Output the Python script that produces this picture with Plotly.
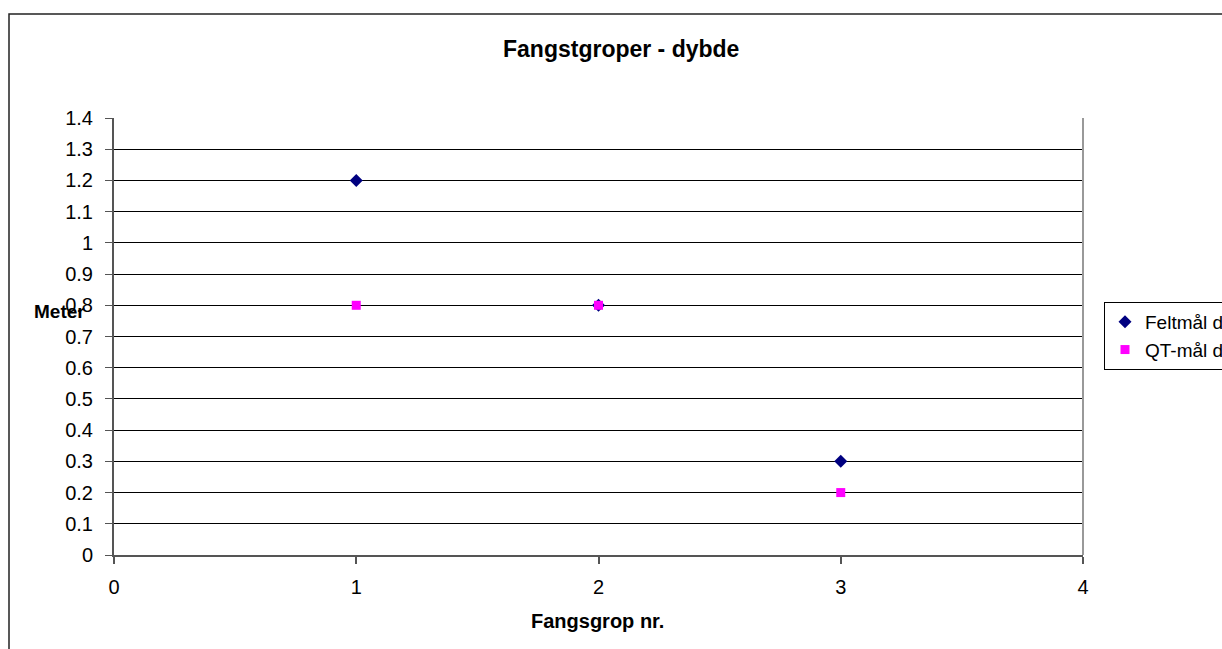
import plotly.graph_objects as go

# Data
groups = [1, 2, 3]
feltmaal = [1.2, 0.8, 0.3]
qt_maal = [0.8, 0.8, 0.2]
series_names = ["Feltmål dybde", "QT-mål dybde"]
title_text = "Fangstgroper - dybde"
x_title = "Fangsgrop nr."
y_title = "Meter"

W, H = 1300, 690
L, R, T, B = 114, 1083, 118, 555
pw, ph = R - L, B - T

def px(x):
    return (x - L) / pw

def py(y):
    return (B - y) / ph

FONT = "Liberation Sans, Arial, sans-serif"

fig = go.Figure()
fig.add_trace(go.Scatter(
    x=groups, y=feltmaal, mode="markers", name=series_names[0],
    legendgroup="a",
    marker=dict(symbol="diamond", size=10, color="#000080",
                line=dict(width=0)),
))
fig.add_trace(go.Scatter(
    x=groups, y=qt_maal, mode="markers", name=series_names[1],
    legendgroup="b",
    marker=dict(symbol="square", size=9, color="#FF00FF",
                line=dict(width=0)),
))

fig.update_layout(
    width=W, height=H,
    margin=dict(l=L, r=W - R, t=T, b=H - B, autoexpand=False),
    paper_bgcolor="white", plot_bgcolor="white",
    font=dict(family=FONT, size=18, color="black"),
    showlegend=True,
    legend=dict(
        x=px(1104), xanchor="left", y=py(302), yanchor="top",
        bordercolor="black", borderwidth=1, bgcolor="white",
        font=dict(size=19, family=FONT),
        tracegroupgap=0, traceorder="grouped",
        itemwidth=30,
    ),
    xaxis=dict(
        range=[0, 4], dtick=1, tick0=0, showgrid=False, zeroline=False,
        showline=True, linecolor="#555555", linewidth=2,
        ticks="outside", ticklen=7, tickcolor="#555555", tickwidth=2,
        tickfont=dict(size=20, family=FONT), ticklabelstandoff=6,
        mirror=False,
    ),
    yaxis=dict(
        range=[0, 1.4], dtick=0.1, tick0=0, showgrid=True,
        gridcolor="#000000", gridwidth=1, zeroline=False,
        showline=True, linecolor="#555555", linewidth=2,
        ticks="outside", ticklen=7, tickcolor="#555555", tickwidth=1,
        tickfont=dict(size=20, family=FONT), ticklabelstandoff=8,
        tickformat="~g",
    ),
    shapes=[
        # plot-area right border (gray)
        dict(type="line", xref="paper", yref="paper", x0=1, x1=1, y0=0, y1=1,
             line=dict(color="#999999", width=2)),
        # outer chart border
        dict(type="rect", xref="paper", yref="paper",
             x0=px(9), x1=px(W - 20), y0=py(H - 10), y1=py(14),
             line=dict(color="#222222", width=1.5)),
    ],
    annotations=[
        dict(text="<b>" + title_text + "</b>", xref="paper", yref="paper",
             x=px(621), y=py(49), xanchor="center", yanchor="middle",
             showarrow=False, font=dict(size=23, family=FONT)),
        dict(text="<b>" + x_title + "</b>", xref="paper", yref="paper",
             x=px(597), y=py(621), xanchor="center", yanchor="middle",
             showarrow=False, font=dict(size=20, family=FONT)),
        dict(text="<b>" + y_title + "</b>", xref="paper", yref="paper",
             x=px(32), y=py(311), xanchor="left", yanchor="middle",
             showarrow=False, font=dict(size=19, family=FONT)),
    ],
)

fig.write_html(
    "out.html",
    post_script="document.body.style.overflow='hidden';"
                "document.documentElement.style.overflow='hidden';"
                "document.body.style.margin='0';",
)
